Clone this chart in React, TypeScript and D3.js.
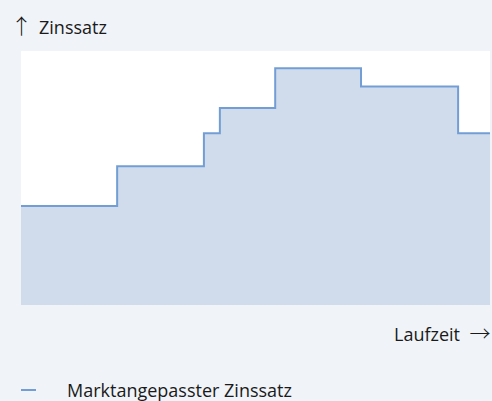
import React from 'react';
import * as d3 from 'd3';

// Laufzeit breakpoints (relative, 0..100) and Zinssatz levels
const laufzeit = [0, 20.5, 39, 42.4, 54.2, 72.5, 93.2, 100];
const zinssatz = [1.95, 2.73, 3.38, 3.88, 4.66, 4.3, 3.38, 3.38];
const seriesName = 'Marktangepasster Zinssatz';
const yTitle = 'Zinssatz';
const xTitle = 'Laufzeit';

const W = 492;
const H = 401;
const margin = { top: 51, right: 2, bottom: 96, left: 21 };

export default function App() {
  const x = d3.scaleLinear().domain([0, 100]).range([margin.left, W - margin.right]);
  const y = d3.scaleLinear().domain([0, 5]).range([H - margin.bottom, margin.top]);

  const data = laufzeit.map((t, i) => ({ t, v: zinssatz[i] }));

  const area = d3
    .area<{ t: number; v: number }>()
    .x(d => x(d.t))
    .y0(y(0))
    .y1(d => y(d.v))
    .curve(d3.curveStepAfter);

  const line = d3
    .line<{ t: number; v: number }>()
    .x(d => x(d.t))
    .y(d => y(d.v))
    .curve(d3.curveStepAfter);

  const font = '"Open Sans", "Noto Sans", sans-serif';
  const arrowFont = '"Noto Sans CJK JP", "DejaVu Sans", sans-serif';

  return (
    <div style={{ position: 'fixed', left: 0, top: 0 }}>
      <svg width={W} height={H} style={{ display: 'block', background: '#f0f3f8' }}>
        <rect
          x={x(0)}
          y={y(5)}
          width={x(100) - x(0)}
          height={y(0) - y(5)}
          fill="#ffffff"
        />
        <path d={area(data) ?? ''} fill="#d0dcec" />
        <path d={line(data) ?? ''} fill="none" stroke="#729ed5" strokeWidth={2} />

        {/* y title arrow: the right arrow glyph turned up */}
        <text
          transform="translate(22,26) rotate(-90)"
          textAnchor="middle"
          dy="0.35em"
          fontFamily={arrowFont}
          fontWeight={300}
          fontSize={21}
          fill="#1a1a1a"
        >
          →
        </text>
        <text x={39} y={34} fontFamily={font} fontSize={18} fill="#1a1a1a">
          {yTitle}
        </text>

        <text x={460} y={341} textAnchor="end" fontFamily={font} fontSize={18} fill="#1a1a1a">
          {xTitle}
        </text>
        <text x={480} y={341} textAnchor="middle" fontFamily={arrowFont} fontWeight={300} fontSize={21} fill="#1a1a1a">
          →
        </text>

        <line x1={21} x2={36} y1={390} y2={390} stroke="#729ed5" strokeWidth={2} />
        <text x={67} y={397} fontFamily={font} fontSize={18} fill="#1a1a1a">
          {seriesName}
        </text>
      </svg>
    </div>
  );
}
